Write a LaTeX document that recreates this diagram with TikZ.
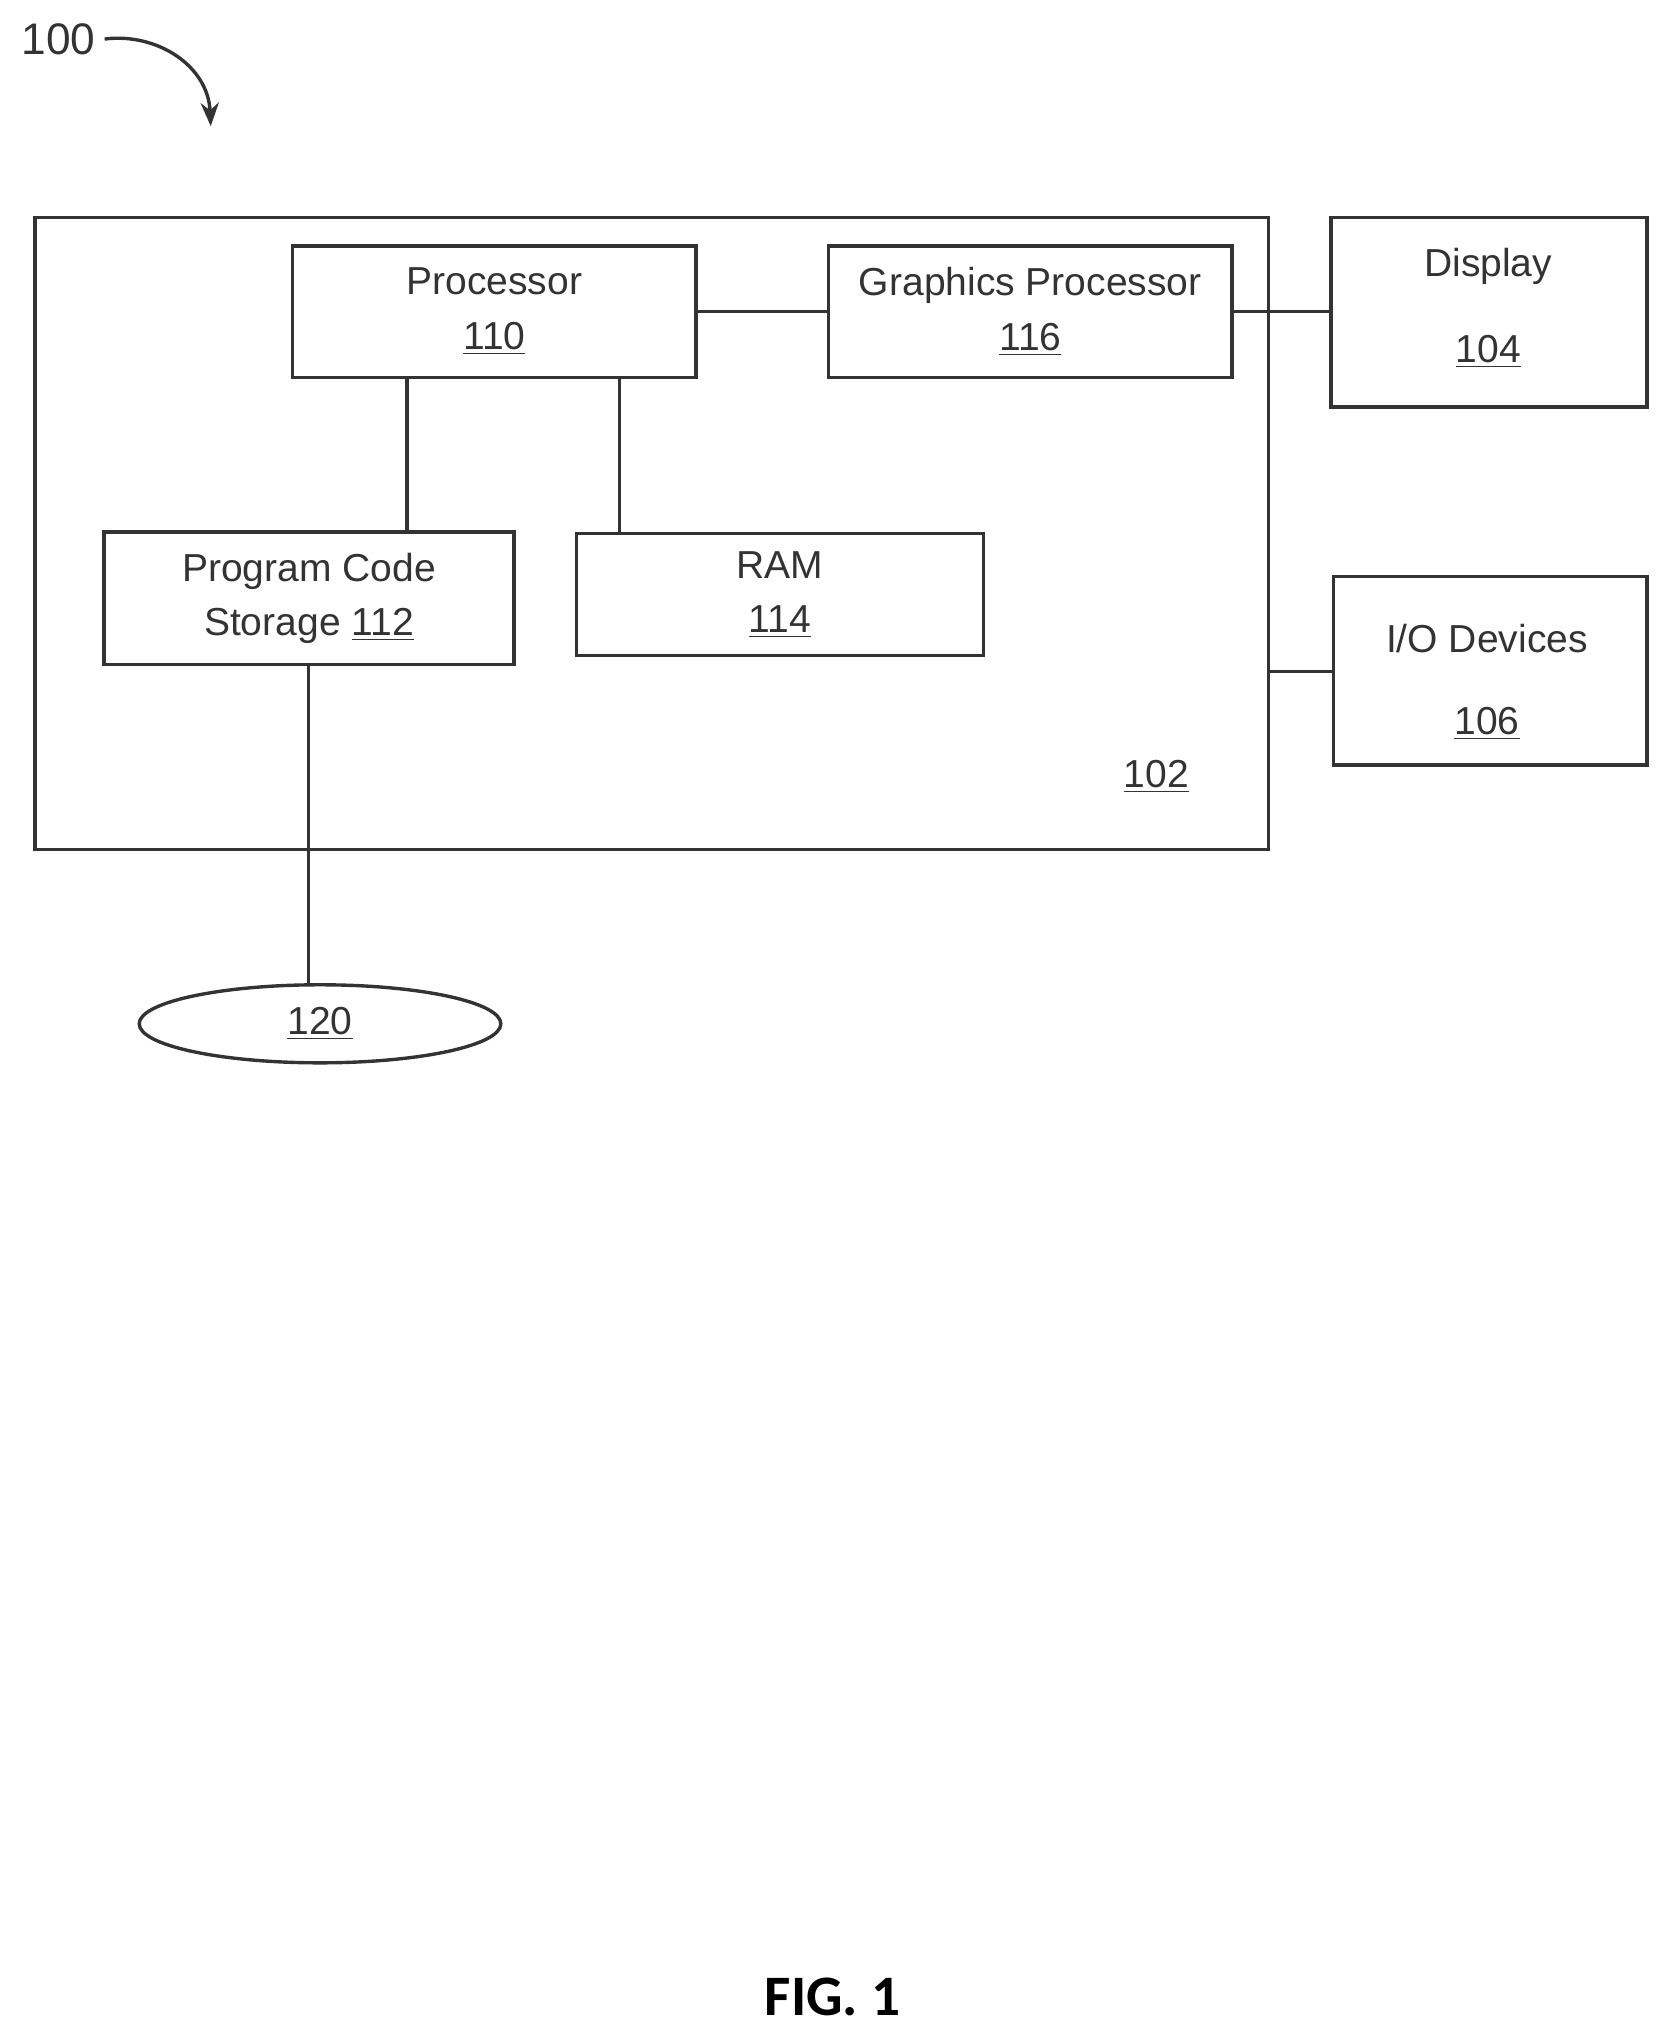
\documentclass[tikz,border=0pt]{standalone}
\usetikzlibrary{shapes.geometric,arrows.meta}
\usepackage{fontspec}
\setmainfont{Liberation Sans}
\newfontfamily\figfont{Carlito}
\begin{document}
\begin{tikzpicture}[x=0.5pt,y=-0.5pt,
  box/.style={draw=black!80,line width=1.3pt,inner sep=0pt,align=center,font=\fontsize{15}{21}\selectfont,text=black!80},
  lbl/.style={font=\fontsize{15}{18}\selectfont,text=black!80},
  conn/.style={draw=black!80,line width=1.3pt}]
\useasboundingbox (0,0) rectangle (1280,1562);
\node[box,minimum width=474pt,minimum height=243pt] (sys) at (501,410) {};
\node[lbl] (l102) at (889,597) {\underline{102}};
\node[box,minimum width=155pt,minimum height=50.5pt] (proc) at (380,239.5) {Processor\\\underline{110}};
\node[box,minimum width=155pt,minimum height=50.5pt] (gp) at (792,239.5) {Graphics Processor\\\underline{116}};
\node[box,minimum width=121.5pt,minimum height=73pt] (disp) at (1144.5,240) {};
\node[lbl] at (1144,205) {Display};
\node[lbl] at (1144,270) {\underline{104}};
\node[box,minimum width=157.5pt,minimum height=51pt] (pcs) at (237.5,460) {Program Code\\Storage \underline{112}};
\node[box,minimum width=156.5pt,minimum height=47pt] (ram) at (599.5,457) {RAM\\\underline{114}};
\node[box,minimum width=120.5pt,minimum height=72.5pt] (io) at (1145.5,515.5) {};
\node[lbl] at (1143,491) {I/O Devices};
\node[lbl] at (1143,556) {\underline{106}};
\node[box,ellipse,minimum width=139pt,minimum height=30pt] (net) at (246,787) {\underline{120}};
\node[lbl,font=\fontsize{17}{20}\selectfont] (l100) at (45,30) {100};
\node[font=\figfont\bfseries\fontsize{22}{26}\selectfont] (fig) at (640,1535) {FIG. 1};
\coordinate (a) at (313,0);
\coordinate (b) at (476,0);
\coordinate (c) at (237,0);
\coordinate (d) at (0,516);
\draw[conn] (proc.east) -- (gp.west);
\draw[conn] (gp.east) -- (disp.west |- gp.east);
\draw[conn] (proc.south -| a) -- (pcs.north -| a);
\draw[conn] (proc.south -| b) -- (ram.north -| b);
\draw[conn] (sys.east |- d) -- (io.west |- d);
\draw[conn] (pcs.south -| c) -- (net.north -| c);
\draw[conn,-{Stealth[length=9pt,width=7pt]}] (l100.east) .. controls (120,25) and (160,50) .. (162,97);
\end{tikzpicture}
\end{document}
